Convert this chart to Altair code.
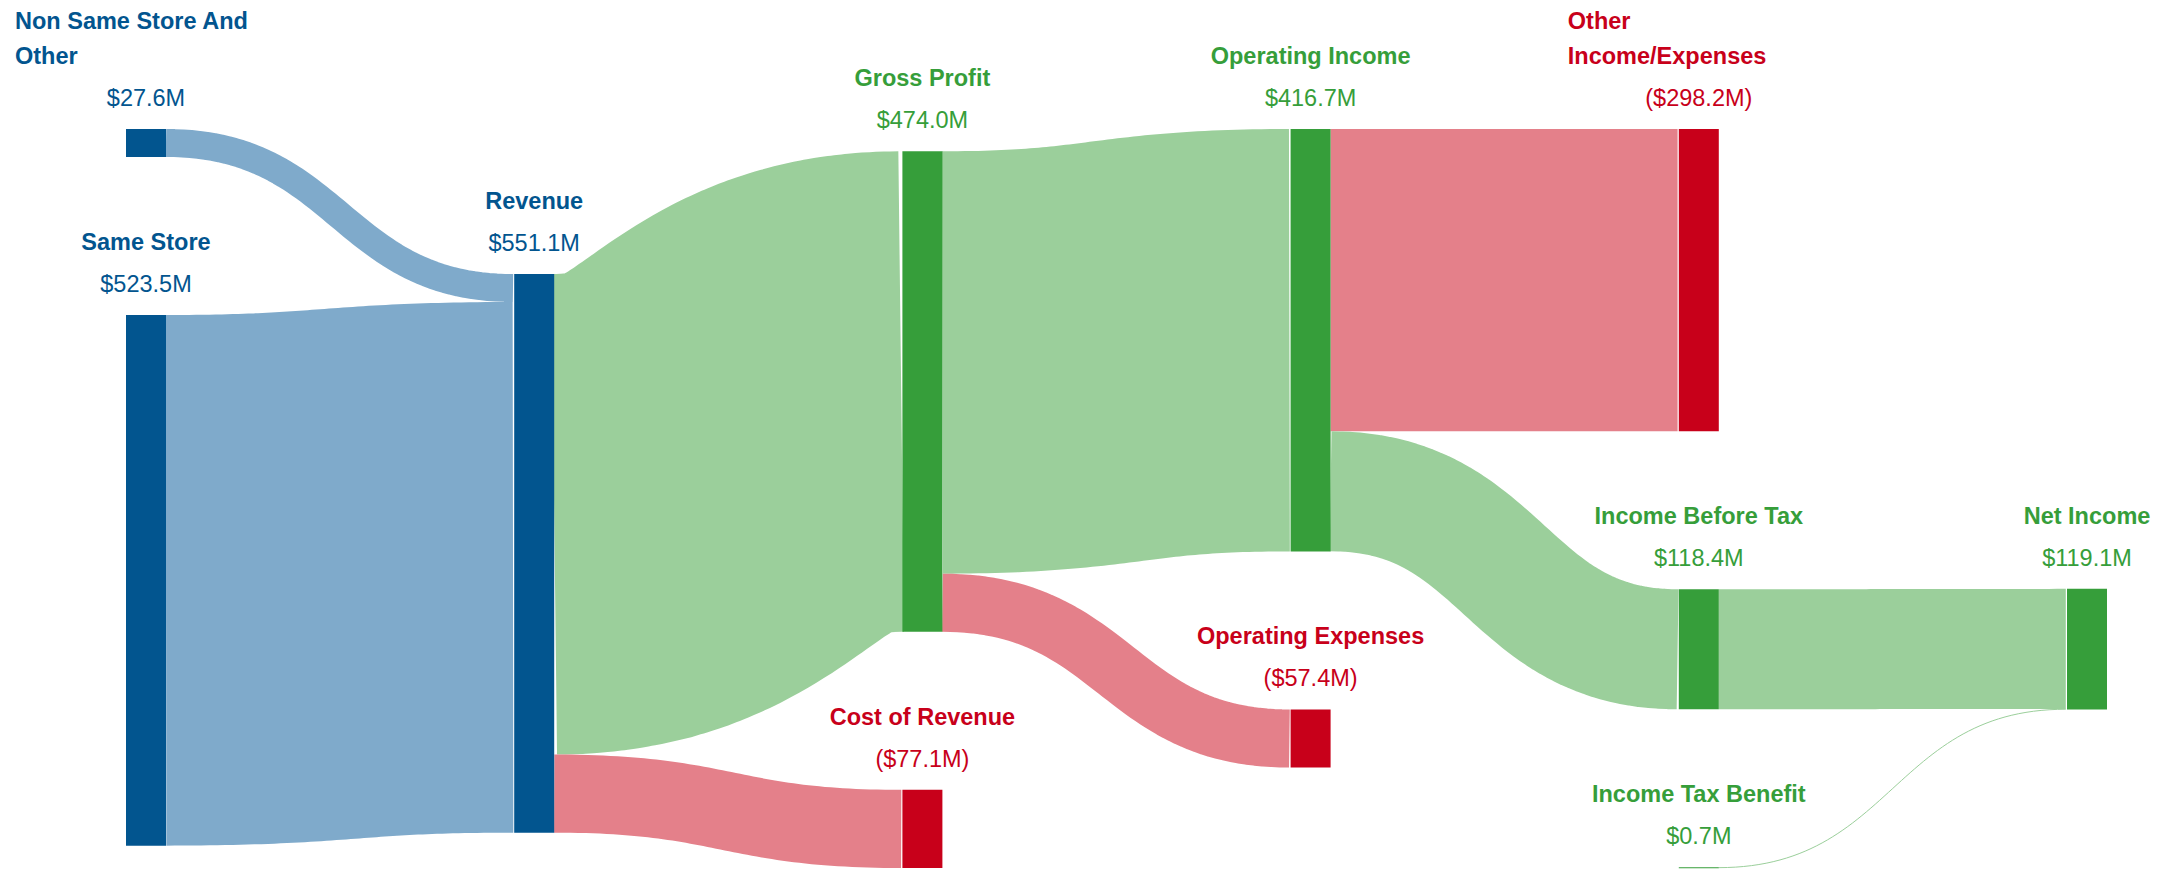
import altair as alt
import pandas as pd
import numpy as np

# ---------------- data ----------------
node_names = [
    "Non Same Store And\nOther",
    "Same Store",
    "Revenue",
    "Gross Profit",
    "Cost of Revenue",
    "Operating Income",
    "Operating Expenses",
    "Other\nIncome/Expenses",
    "Income Before Tax",
    "Income Tax Benefit",
    "Net Income",
]
node_columns = [0, 0, 1, 2, 2, 3, 3, 4, 4, 4, 5]
node_kinds = ["revenue", "revenue", "revenue", "profit", "expense", "profit",
              "expense", "expense", "profit", "profit", "profit"]

link_sources = [0, 1, 2, 2, 3, 3, 5, 5, 8, 9]
link_targets = [2, 2, 3, 4, 5, 6, 7, 8, 10, 10]
link_values = [27.6, 523.5, 474.0, 77.1, 416.7, 57.4, 298.2, 118.4, 118.4, 0.7]

# ---------------- style / layout parameters ----------------
W, H = 2158, 863                     # plot area
EXT_X0, EXT_X1 = 118, 2099           # sankey extent
EXT_Y0, EXT_Y1 = 121, 860
NODE_W, NODE_PAD = 40, 158
LINK_GAP = 1.2
FONT = "Liberation Sans"
FS = 23.5
kinds = ["revenue", "profit", "expense"]
node_colors = ["#02558F", "#369E3A", "#C8001A"]
link_colors = ["#7FAACB", "#9BCF9B", "#E4808A"]


# ---------------- sankey layout (port of d3-sankey) ----------------
def sankey(n_nodes, columns, src, tgt, val, x0, y0, x1, y1, dx, pad, iterations=6):
    nodes = [dict(index=i, sourceLinks=[], targetLinks=[]) for i in range(n_nodes)]
    links = []
    for i, (s, t, v) in enumerate(zip(src, tgt, val)):
        l = dict(index=i, source=nodes[s], target=nodes[t], value=v)
        nodes[s]["sourceLinks"].append(l)
        nodes[t]["targetLinks"].append(l)
        links.append(l)
    for nd in nodes:
        nd["value"] = max(sum(l["value"] for l in nd["sourceLinks"]),
                          sum(l["value"] for l in nd["targetLinks"]))
    ncol = max(columns) + 1
    cols = [[] for _ in range(ncol)]
    for nd, c in zip(nodes, columns):
        nd["layer"] = c
        nd["x0"] = x0 + c * (x1 - x0 - dx) / (ncol - 1)
        nd["x1"] = nd["x0"] + dx
        cols[c].append(nd)
    py = min(pad, (y1 - y0) / (max(len(c) for c in cols) - 1))
    ky = min((y1 - y0 - (len(c) - 1) * py) / sum(n["value"] for n in c) for c in cols)

    def by_t(l):
        return (l["target"].get("y0", 0.0), l["index"])

    def by_s(l):
        return (l["source"].get("y0", 0.0), l["index"])

    def reorder_links(col):
        for nd in col:
            nd["sourceLinks"].sort(key=by_t)
            nd["targetLinks"].sort(key=by_s)

    def reorder_node_links(nd):
        for l in nd["targetLinks"]:
            l["source"]["sourceLinks"].sort(key=by_t)
        for l in nd["sourceLinks"]:
            l["target"]["targetLinks"].sort(key=by_s)

    for c in cols:
        y = y0
        for nd in c:
            nd["y0"] = y
            nd["y1"] = y + nd["value"] * ky
            y = nd["y1"] + py
            for l in nd["sourceLinks"]:
                l["width"] = l["value"] * ky
        y = (y1 - y + py) / (len(c) + 1)
        for i, nd in enumerate(c):
            nd["y0"] += y * (i + 1)
            nd["y1"] += y * (i + 1)
        reorder_links(c)

    def target_top(s, t):
        y = s["y0"] - (len(s["sourceLinks"]) - 1) * py / 2
        for l in s["sourceLinks"]:
            if l["target"] is t:
                break
            y += l["width"] + py
        for l in t["targetLinks"]:
            if l["source"] is s:
                break
            y -= l["width"]
        return y

    def source_top(s, t):
        y = t["y0"] - (len(t["targetLinks"]) - 1) * py / 2
        for l in t["targetLinks"]:
            if l["source"] is s:
                break
            y += l["width"] + py
        for l in s["sourceLinks"]:
            if l["target"] is t:
                break
            y -= l["width"]
        return y

    def coll_t2b(nds, y, i, a):
        while i < len(nds):
            nd = nds[i]
            d = (y - nd["y0"]) * a
            if d > 1e-6:
                nd["y0"] += d
                nd["y1"] += d
            y = nd["y1"] + py
            i += 1

    def coll_b2t(nds, y, i, a):
        while i >= 0:
            nd = nds[i]
            d = (nd["y1"] - y) * a
            if d > 1e-6:
                nd["y0"] -= d
                nd["y1"] -= d
            y = nd["y0"] - py
            i -= 1

    def resolve(nds, a):
        i = len(nds) >> 1
        sub = nds[i]
        coll_b2t(nds, sub["y0"] - py, i - 1, a)
        coll_t2b(nds, sub["y1"] + py, i + 1, a)
        coll_b2t(nds, y1, len(nds) - 1, a)
        coll_t2b(nds, y0, 0, a)

    def relax_l2r(a, b):
        for i in range(1, ncol):
            col = cols[i]
            for t in col:
                y = 0.0
                w = 0.0
                for l in t["targetLinks"]:
                    s = l["source"]
                    v = l["value"] * (t["layer"] - s["layer"])
                    y += target_top(s, t) * v
                    w += v
                if not w > 0:
                    continue
                d = (y / w - t["y0"]) * a
                t["y0"] += d
                t["y1"] += d
                reorder_node_links(t)
            col.sort(key=lambda n: n["y0"])
            resolve(col, b)

    def relax_r2l(a, b):
        for i in range(ncol - 2, -1, -1):
            col = cols[i]
            for s in col:
                y = 0.0
                w = 0.0
                for l in s["sourceLinks"]:
                    t = l["target"]
                    v = l["value"] * (t["layer"] - s["layer"])
                    y += source_top(s, t) * v
                    w += v
                if not w > 0:
                    continue
                d = (y / w - s["y0"]) * a
                s["y0"] += d
                s["y1"] += d
                reorder_node_links(s)
            col.sort(key=lambda n: n["y0"])
            resolve(col, b)

    for i in range(iterations):
        a = 0.99 ** i
        b = max(1 - a, (i + 1) / iterations)
        relax_r2l(a, b)
        relax_l2r(a, b)

    for nd in nodes:
        ya = nd["y0"]
        yb = ya
        for l in nd["sourceLinks"]:
            l["y0"] = ya + l["width"] / 2
            ya += l["width"]
        for l in nd["targetLinks"]:
            l["y1"] = yb + l["width"] / 2
            yb += l["width"]
    return nodes, links


nodes, links = sankey(len(node_names), node_columns, link_sources, link_targets,
                      link_values, EXT_X0, EXT_Y0, EXT_X1, EXT_Y1, NODE_W, NODE_PAD)


def money(v, kind):
    s = f"${v:,.1f}M"
    return f"({s})" if kind == "expense" else s


# node table
node_rows = []
for nd, name, kind in zip(nodes, node_names, node_kinds):
    inflow = sum(l["value"] for l in nd["targetLinks"])
    outflow = sum(l["value"] for l in nd["sourceLinks"])
    shown = inflow if inflow > 0 else outflow
    lines = name.split("\n")
    node_rows.append(dict(
        name=name, kind=kind,
        x0=nd["x0"], x1=nd["x1"], xc=(nd["x0"] + nd["x1"]) / 2,
        y0=nd["y0"], y1=nd["y0"] + max(nd["y1"] - nd["y0"], 1.0),
        label=money(shown, kind),
        multi=len(lines) > 1,
        first=lines[0], last=lines[-1],
    ))
nodes_df = pd.DataFrame(node_rows)

# link paths (horizontal cubic Bezier, as d3.linkHorizontal)
tt = np.linspace(0, 1, 61)
link_rows = []
for l in links:
    xs_, xt_ = l["source"]["x1"], l["target"]["x0"] - LINK_GAP
    xm = (l["source"]["x1"] + l["target"]["x0"]) / 2
    ys_, yt_ = l["y0"], l["y1"]
    for t in tt:
        u = 1 - t
        bx = u**3 * xs_ + 3 * u * u * t * xm + 3 * u * t * t * xm + t**3 * xt_
        by = u**3 * ys_ + 3 * u * u * t * ys_ + 3 * u * t * t * yt_ + t**3 * yt_
        link_rows.append(dict(link=l["index"], t=t, x=bx, y=by,
                              w=max(1.0, l["width"]),
                              kind=node_kinds[link_targets[l["index"]]]))
links_df = pd.DataFrame(link_rows)

xs = alt.Scale(domain=[0, W], nice=False, zero=False)
ys = alt.Scale(domain=[0, H], reverse=True, nice=False, zero=False)
fill_scale = alt.Scale(domain=kinds, range=node_colors)
stroke_scale = alt.Scale(domain=kinds, range=link_colors)

link_layer = alt.Chart(links_df).mark_line(strokeCap="butt", strokeJoin="round").encode(
    x=alt.X("x:Q", scale=xs, axis=None),
    y=alt.Y("y:Q", scale=ys, axis=None),
    detail="link:N",
    order="t:Q",
    stroke=alt.Stroke("kind:N", scale=stroke_scale, legend=None),
    strokeWidth=alt.StrokeWidth("w:Q", scale=None),
)

node_layer = alt.Chart(nodes_df).mark_rect().encode(
    x=alt.X("x0:Q", scale=xs, axis=None), x2="x1:Q",
    y=alt.Y("y0:Q", scale=ys, axis=None), y2="y1:Q",
    color=alt.Color("kind:N", scale=fill_scale, legend=None),
)

base_txt = alt.Chart(nodes_df).encode(
    x=alt.X("xc:Q", scale=xs, axis=None),
    y=alt.Y("y0:Q", scale=ys, axis=None),
    color=alt.Color("kind:N", scale=fill_scale, legend=None),
)

value_txt = base_txt.mark_text(align="center", baseline="alphabetic", font=FONT,
                               fontSize=FS, dy=-23).encode(text="label:N")
name_single = base_txt.transform_filter("!datum.multi").mark_text(
    align="center", baseline="alphabetic", font=FONT, fontSize=FS,
    fontWeight="bold", dy=-65).encode(text="last:N")
name_multi_last = base_txt.transform_filter("datum.multi").mark_text(
    align="left", baseline="alphabetic", font=FONT, fontSize=FS,
    fontWeight="bold", dx=-131, dy=-65).encode(text="last:N")
name_multi_first = base_txt.transform_filter("datum.multi").mark_text(
    align="left", baseline="alphabetic", font=FONT, fontSize=FS,
    fontWeight="bold", dx=-131, dy=-100).encode(text="first:N")

chart = alt.layer(
    link_layer, node_layer, value_txt, name_single, name_multi_last, name_multi_first
).properties(
    width=W, height=H, padding=0,
    autosize=alt.AutoSizeParams(type="none"),
).configure_view(stroke=None)

chart.save("out.html", embed_options={"renderer": "svg", "actions": False})
